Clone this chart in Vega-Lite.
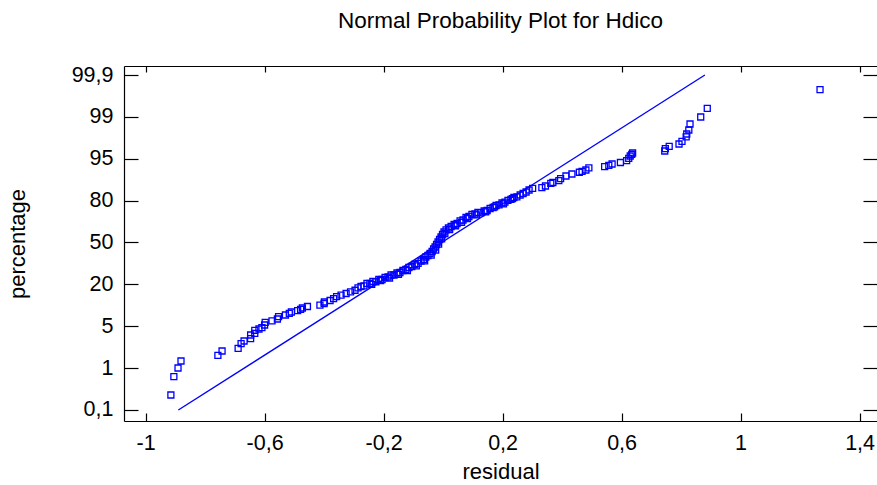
{
  "$schema": "https://vega.github.io/schema/vega-lite/v6.json",
  "width": 753,
  "height": 355,
  "autosize": {"type": "none"},
  "padding": {"left": 124, "top": 66, "right": 0, "bottom": 64},
  "background": "white",
  "config": {
    "view": {"stroke": null},
    "font": "Liberation Sans",
    "axis": {
      "grid": false,
      "domainColor": "black",
      "tickColor": "black",
      "labelColor": "black",
      "titleColor": "black",
      "labelFont": "Liberation Sans",
      "titleFont": "Liberation Sans",
      "labelFontSize": 21.5,
      "titleFontSize": 22,
      "titleFontWeight": "normal",
      "domainWidth": 1.2,
      "tickWidth": 1.2,
      "labelFlush": false,
      "labelBound": false,
      "labelOverlap": false
    }
  },
  "title": {
    "text": "Normal Probability Plot for Hdico",
    "fontSize": 22.5,
    "fontWeight": "normal",
    "font": "Liberation Sans",
    "color": "black",
    "anchor": "middle",
    "offset": 32
  },
  "resolve": {"axis": {"x": "independent", "y": "independent"}},
  "layer": [
    {
      "data": {
        "values": [
          {"residual": -0.915, "score": 0.358},
          {"residual": -0.905, "score": 0.795},
          {"residual": -0.891, "score": 1.003},
          {"residual": -0.881, "score": 1.170},
          {"residual": -0.757, "score": 1.306},
          {"residual": -0.743, "score": 1.409},
          {"residual": -0.689, "score": 1.473},
          {"residual": -0.679, "score": 1.583},
          {"residual": -0.669, "score": 1.648},
          {"residual": -0.647, "score": 1.703},
          {"residual": -0.647, "score": 1.791},
          {"residual": -0.633, "score": 1.832},
          {"residual": -0.633, "score": 1.899},
          {"residual": -0.619, "score": 1.934},
          {"residual": -0.609, "score": 1.965},
          {"residual": -0.600, "score": 2.030},
          {"residual": -0.598, "score": 2.094},
          {"residual": -0.575, "score": 2.130},
          {"residual": -0.557, "score": 2.173},
          {"residual": -0.553, "score": 2.228},
          {"residual": -0.530, "score": 2.269},
          {"residual": -0.517, "score": 2.309},
          {"residual": -0.510, "score": 2.340},
          {"residual": -0.489, "score": 2.371},
          {"residual": -0.479, "score": 2.405},
          {"residual": -0.473, "score": 2.436},
          {"residual": -0.456, "score": 2.472},
          {"residual": -0.414, "score": 2.503},
          {"residual": -0.400, "score": 2.543},
          {"residual": -0.399, "score": 2.579},
          {"residual": -0.380, "score": 2.615},
          {"residual": -0.368, "score": 2.658},
          {"residual": -0.358, "score": 2.706},
          {"residual": -0.343, "score": 2.742},
          {"residual": -0.326, "score": 2.782},
          {"residual": -0.311, "score": 2.823},
          {"residual": -0.296, "score": 2.859},
          {"residual": -0.286, "score": 2.914},
          {"residual": -0.276, "score": 2.949},
          {"residual": -0.266, "score": 2.966},
          {"residual": -0.256, "score": 3.021},
          {"residual": -0.246, "score": 3.021},
          {"residual": -0.236, "score": 3.069},
          {"residual": -0.226, "score": 3.062},
          {"residual": -0.216, "score": 3.116},
          {"residual": -0.205, "score": 3.116},
          {"residual": -0.195, "score": 3.164},
          {"residual": -0.185, "score": 3.176},
          {"residual": -0.175, "score": 3.224},
          {"residual": -0.165, "score": 3.224},
          {"residual": -0.155, "score": 3.272},
          {"residual": -0.145, "score": 3.284},
          {"residual": -0.135, "score": 3.331},
          {"residual": -0.125, "score": 3.355},
          {"residual": -0.115, "score": 3.403},
          {"residual": -0.105, "score": 3.427},
          {"residual": -0.095, "score": 3.475},
          {"residual": -0.084, "score": 3.499},
          {"residual": -0.074, "score": 3.558},
          {"residual": -0.066, "score": 3.594},
          {"residual": -0.058, "score": 3.654},
          {"residual": -0.051, "score": 3.690},
          {"residual": -0.044, "score": 3.737},
          {"residual": -0.037, "score": 3.785},
          {"residual": -0.032, "score": 3.845},
          {"residual": -0.027, "score": 3.893},
          {"residual": -0.022, "score": 3.952},
          {"residual": -0.017, "score": 4.012},
          {"residual": -0.012, "score": 4.072},
          {"residual": -0.007, "score": 4.131},
          {"residual": -0.002, "score": 4.191},
          {"residual": 0.003, "score": 4.251},
          {"residual": 0.010, "score": 4.299},
          {"residual": 0.018, "score": 4.346},
          {"residual": 0.027, "score": 4.382},
          {"residual": 0.037, "score": 4.430},
          {"residual": 0.047, "score": 4.454},
          {"residual": 0.057, "score": 4.514},
          {"residual": 0.067, "score": 4.537},
          {"residual": 0.077, "score": 4.597},
          {"residual": 0.087, "score": 4.621},
          {"residual": 0.097, "score": 4.669},
          {"residual": 0.107, "score": 4.681},
          {"residual": 0.117, "score": 4.717},
          {"residual": 0.127, "score": 4.709},
          {"residual": 0.138, "score": 4.752},
          {"residual": 0.148, "score": 4.764},
          {"residual": 0.158, "score": 4.812},
          {"residual": 0.168, "score": 4.836},
          {"residual": 0.178, "score": 4.884},
          {"residual": 0.188, "score": 4.900},
          {"residual": 0.198, "score": 4.943},
          {"residual": 0.208, "score": 4.962},
          {"residual": 0.218, "score": 5.008},
          {"residual": 0.228, "score": 5.032},
          {"residual": 0.238, "score": 5.075},
          {"residual": 0.248, "score": 5.091},
          {"residual": 0.259, "score": 5.134},
          {"residual": 0.269, "score": 5.170},
          {"residual": 0.279, "score": 5.206},
          {"residual": 0.289, "score": 5.254},
          {"residual": 0.301, "score": 5.294},
          {"residual": 0.332, "score": 5.309},
          {"residual": 0.344, "score": 5.349},
          {"residual": 0.362, "score": 5.414},
          {"residual": 0.369, "score": 5.433},
          {"residual": 0.389, "score": 5.476},
          {"residual": 0.395, "score": 5.524},
          {"residual": 0.413, "score": 5.588},
          {"residual": 0.433, "score": 5.636},
          {"residual": 0.458, "score": 5.677},
          {"residual": 0.467, "score": 5.700},
          {"residual": 0.480, "score": 5.731},
          {"residual": 0.490, "score": 5.784},
          {"residual": 0.543, "score": 5.810},
          {"residual": 0.557, "score": 5.844},
          {"residual": 0.568, "score": 5.875},
          {"residual": 0.596, "score": 5.911},
          {"residual": 0.617, "score": 5.954},
          {"residual": 0.624, "score": 6.011},
          {"residual": 0.629, "score": 6.066},
          {"residual": 0.634, "score": 6.106},
          {"residual": 0.637, "score": 6.137},
          {"residual": 0.745, "score": 6.185},
          {"residual": 0.747, "score": 6.240},
          {"residual": 0.760, "score": 6.297},
          {"residual": 0.793, "score": 6.352},
          {"residual": 0.803, "score": 6.417},
          {"residual": 0.817, "score": 6.520},
          {"residual": 0.819, "score": 6.591},
          {"residual": 0.826, "score": 6.687},
          {"residual": 0.830, "score": 6.830},
          {"residual": 0.866, "score": 6.997},
          {"residual": 0.888, "score": 7.205},
          {"residual": 1.267, "score": 7.649},
          {"residual": -0.240, "score": 3.000},
          {"residual": -0.210, "score": 3.090},
          {"residual": -0.180, "score": 3.150},
          {"residual": -0.150, "score": 3.240},
          {"residual": -0.120, "score": 3.330},
          {"residual": -0.090, "score": 3.440},
          {"residual": -0.062, "score": 3.560},
          {"residual": -0.040, "score": 3.700},
          {"residual": -0.025, "score": 3.820},
          {"residual": -0.015, "score": 3.960},
          {"residual": -0.005, "score": 4.090},
          {"residual": 0.006, "score": 4.210},
          {"residual": 0.022, "score": 4.310},
          {"residual": 0.042, "score": 4.400},
          {"residual": 0.062, "score": 4.480},
          {"residual": 0.082, "score": 4.570},
          {"residual": 0.112, "score": 4.660},
          {"residual": 0.143, "score": 4.730},
          {"residual": 0.173, "score": 4.850},
          {"residual": 0.203, "score": 4.920},
          {"residual": 0.233, "score": 5.050}
        ]
      },
      "mark": {"type": "point", "shape": "square", "filled": false, "size": 36, "strokeWidth": 1.3, "color": "#0000ff", "opacity": 1},
      "encoding": {
        "x": {
          "field": "residual",
          "type": "quantitative",
          "scale": {"domain": [-1.0726, 1.4585], "nice": false, "zero": false},
          "axis": {
            "orient": "bottom",
            "values": [-1, -0.6, -0.2, 0.2, 0.6, 1, 1.4],
            "labelExpr": "replace(toString(datum.value), '.', ',')",
            "tickSize": -8,
            "labelPadding": 19,
            "title": "residual",
            "titlePadding": 8
          }
        },
        "y": {
          "field": "score",
          "type": "quantitative",
          "scale": {"domain": [-0.263, 8.215], "nice": false, "zero": false},
          "axis": {
            "orient": "left",
            "values": [0, 1, 2, 3, 4, 5, 6, 7, 8],
            "labelExpr": "['0,1','1','5','20','50','80','95','99','99,9'][datum.value]",
            "tickSize": -14,
            "labelPadding": 25,
            "title": "percentage",
            "titlePadding": 42
          }
        }
      }
    },
    {
      "data": {
        "values": [
          {"residual": -0.890, "score": 0},
          {"residual": 0.880, "score": 8}
        ]
      },
      "mark": {"type": "line", "color": "#0000ff", "strokeWidth": 1.4},
      "encoding": {
        "x": {
          "field": "residual",
          "type": "quantitative",
          "scale": {"domain": [-1.0726, 1.4585], "nice": false, "zero": false},
          "axis": {
            "orient": "top",
            "values": [-1, -0.6, -0.2, 0.2, 0.6, 1, 1.4],
            "labels": false,
            "tickSize": -6,
            "title": null
          }
        },
        "y": {
          "field": "score",
          "type": "quantitative",
          "scale": {"domain": [-0.263, 8.215], "nice": false, "zero": false},
          "axis": {
            "orient": "right",
            "values": [0, 1, 2, 3, 4, 5, 6, 7, 8],
            "labels": false,
            "domain": false,
            "tickSize": -14,
            "title": null
          }
        }
      }
    }
  ]
}
